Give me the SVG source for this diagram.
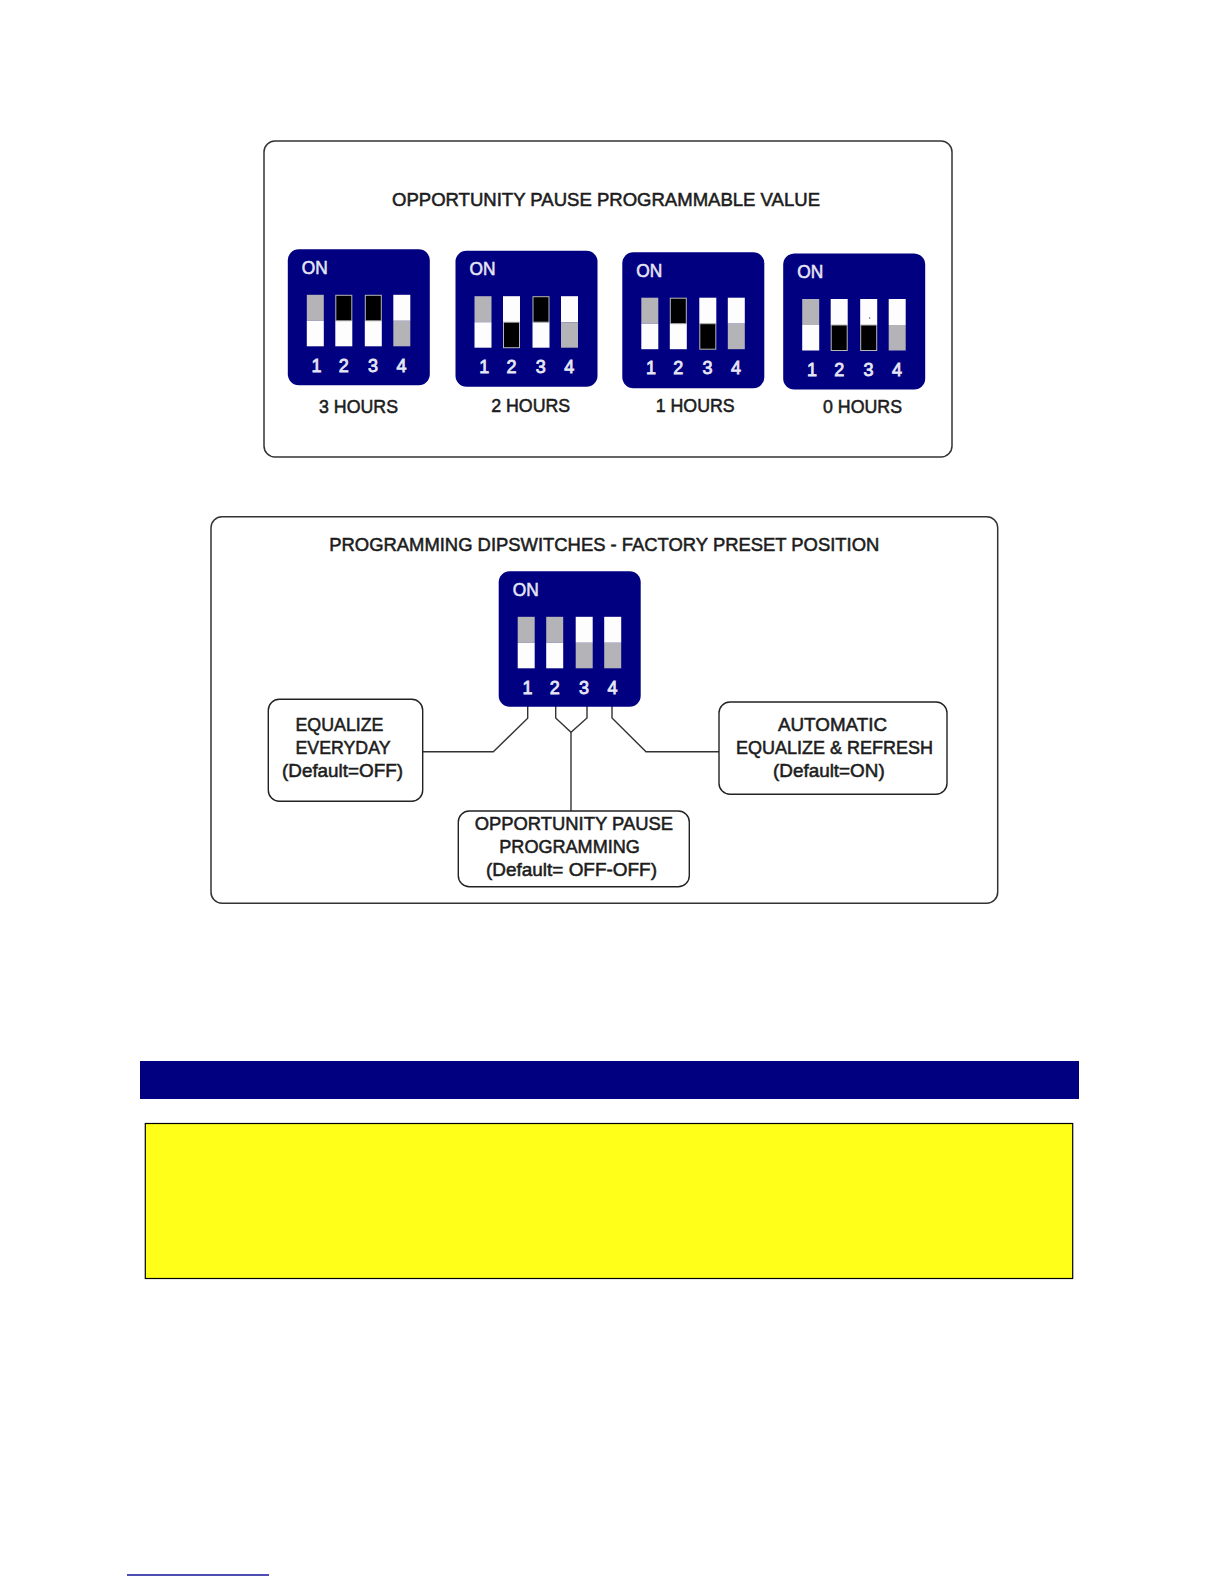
<svg xmlns="http://www.w3.org/2000/svg" width="1224" height="1584" viewBox="0 0 1224 1584">
<style>
text{font-family:"Liberation Sans",Arial,sans-serif}
.panel{fill:#fff;stroke:#333;stroke-width:1.5}
.box{fill:#fff;stroke:#222;stroke-width:1.4}
.lbl{font-size:19px;fill:#1c1c1c;stroke:#1c1c1c;stroke-width:.55}
.body{fill:#000080}
.w{fill:#fdfdfd}
.g{fill:#b4b4b8}
.k{fill:#000;stroke:#b8b8b0;stroke-width:1}
.on{font-size:18px;fill:#e6e6f4;stroke:#e6e6f4;stroke-width:.55}
.n{font-size:18px;fill:#e6e6f4;stroke:#e6e6f4;stroke-width:.8;text-anchor:middle}
.wire{fill:none;stroke:#333;stroke-width:1.4}
</style>
<rect width="1224" height="1584" fill="#fff"/>

<g id="panel-opportunity">
<rect class="panel" x="264" y="141" width="688" height="316" rx="11"/>
<text class="lbl" x="392" y="206.3" textLength="428" lengthAdjust="spacingAndGlyphs">OPPORTUNITY PAUSE PROGRAMMABLE VALUE</text>
</g>

<g id="dip-3h" transform="translate(287.8,249.3)">
<rect class="body" width="142" height="136" rx="11"/>
<text class="on" x="14" y="25" textLength="26" lengthAdjust="spacingAndGlyphs">ON</text>
<rect class="g" x="19" y="45.5" width="17" height="26"/><rect class="w" x="19" y="71.5" width="17" height="25.5"/>
<rect class="w" x="47.5" y="71.5" width="17" height="25.5"/><rect class="k" x="48" y="46" width="16" height="25.5"/>
<rect class="w" x="77" y="71.5" width="17" height="25.5"/><rect class="k" x="77.5" y="46" width="16" height="25.5"/>
<rect class="w" x="105.5" y="45.5" width="17" height="26"/><rect class="g" x="105.5" y="71.5" width="17" height="25.5"/>
<text class="n" x="28.7" y="123">1</text><text class="n" x="56" y="123">2</text><text class="n" x="85.3" y="123">3</text><text class="n" x="113.7" y="123">4</text>
</g>
<text id="label-3h" class="lbl" x="319" y="413" textLength="79" lengthAdjust="spacingAndGlyphs">3 HOURS</text>

<g id="dip-2h" transform="translate(455.5,250.7)">
<rect class="body" width="142" height="136" rx="11"/>
<text class="on" x="14" y="24.5" textLength="26" lengthAdjust="spacingAndGlyphs">ON</text>
<rect class="g" x="19" y="45.5" width="17" height="26"/><rect class="w" x="19" y="71.5" width="17" height="25.5"/>
<rect class="w" x="47.5" y="45.5" width="17" height="26"/><rect class="k" x="48" y="71.5" width="16" height="25.5"/>
<rect class="w" x="77" y="71.5" width="17" height="25.5"/><rect class="k" x="77.5" y="46" width="16" height="25.5"/>
<rect class="w" x="105.5" y="45.5" width="17" height="26"/><rect class="g" x="105.5" y="71.5" width="17" height="25.5"/>
<text class="n" x="28.7" y="122">1</text><text class="n" x="56" y="122">2</text><text class="n" x="85.3" y="122">3</text><text class="n" x="113.7" y="122">4</text>
</g>
<text id="label-2h" class="lbl" x="491.2" y="412" textLength="79" lengthAdjust="spacingAndGlyphs">2 HOURS</text>

<g id="dip-1h" transform="translate(622.3,252.2)">
<rect class="body" width="142" height="136" rx="11"/>
<text class="on" x="14" y="24.5" textLength="26" lengthAdjust="spacingAndGlyphs">ON</text>
<rect class="g" x="19" y="45.5" width="17" height="26"/><rect class="w" x="19" y="71.5" width="17" height="25.5"/>
<rect class="w" x="47.5" y="71.5" width="17" height="25.5"/><rect class="k" x="48" y="46" width="16" height="25.5"/>
<rect class="w" x="77" y="45.5" width="17" height="26"/><rect class="k" x="77.5" y="71.5" width="16" height="25.5"/>
<rect class="w" x="105.5" y="45.5" width="17" height="26"/><rect class="g" x="105.5" y="71.5" width="17" height="25.5"/>
<text class="n" x="28.7" y="121.5">1</text><text class="n" x="56" y="121.5">2</text><text class="n" x="85.3" y="121.5">3</text><text class="n" x="113.7" y="121.5">4</text>
</g>
<text id="label-1h" class="lbl" x="655.7" y="412" textLength="79" lengthAdjust="spacingAndGlyphs">1 HOURS</text>

<g id="dip-0h" transform="translate(783.2,253.5)">
<rect class="body" width="142" height="136" rx="11"/>
<text class="on" x="14" y="24.5" textLength="26" lengthAdjust="spacingAndGlyphs">ON</text>
<rect class="g" x="19" y="45.5" width="17" height="26"/><rect class="w" x="19" y="71.5" width="17" height="25.5"/>
<rect class="w" x="47.5" y="45.5" width="17" height="26"/><rect class="k" x="48" y="71.5" width="16" height="25.5"/>
<rect class="w" x="77" y="45.5" width="17" height="26"/><rect class="k" x="77.5" y="71.5" width="16" height="25.5"/>
<rect x="86" y="64" width="1" height="1" fill="#000"/>
<rect class="w" x="105.5" y="45.5" width="17" height="26"/><rect class="g" x="105.5" y="71.5" width="17" height="25.5"/>
<text class="n" x="28.7" y="122">1</text><text class="n" x="56" y="122">2</text><text class="n" x="85.3" y="122">3</text><text class="n" x="113.7" y="122">4</text>
</g>
<text id="label-0h" class="lbl" x="823" y="413" textLength="79" lengthAdjust="spacingAndGlyphs">0 HOURS</text>

<g id="panel-factory">
<rect class="panel" x="211" y="516.7" width="786.7" height="386.6" rx="11"/>
<text class="lbl" x="329.3" y="551" textLength="550" lengthAdjust="spacingAndGlyphs">PROGRAMMING DIPSWITCHES - FACTORY PRESET POSITION</text>
</g>

<g id="connectors">
<path class="wire" d="M422.7 751.7H493.3L527.7 718.3V706"/>
<path class="wire" d="M555.7 706V718L571 732.3L587 718V706"/>
<path class="wire" d="M571 732.3V811"/>
<path class="wire" d="M612 706V718L646 751.7H719"/>
</g>

<g id="dip-factory" transform="translate(498.7,571.3)">
<rect class="body" width="142" height="135.5" rx="11"/>
<text class="on" x="14" y="25" textLength="26" lengthAdjust="spacingAndGlyphs">ON</text>
<rect class="g" x="19" y="45.5" width="17" height="26"/><rect class="w" x="19" y="71.5" width="17" height="25.5"/>
<rect class="g" x="47.5" y="45.5" width="17" height="26"/><rect class="w" x="47.5" y="71.5" width="17" height="25.5"/>
<rect class="w" x="77" y="45.5" width="17" height="26"/><rect class="g" x="77" y="71.5" width="17" height="25.5"/>
<rect class="w" x="105.5" y="45.5" width="17" height="26"/><rect class="g" x="105.5" y="71.5" width="17" height="25.5"/>
<text class="n" x="28.7" y="123">1</text><text class="n" x="56" y="123">2</text><text class="n" x="85.3" y="123">3</text><text class="n" x="113.7" y="123">4</text>
</g>

<g id="box-equalize">
<rect class="box" x="268.3" y="699.3" width="154.4" height="102" rx="11"/>
<text class="lbl" x="295.5" y="731" textLength="88" lengthAdjust="spacingAndGlyphs">EQUALIZE</text>
<text class="lbl" x="295.5" y="754" textLength="95" lengthAdjust="spacingAndGlyphs">EVERYDAY</text>
<text class="lbl" x="282" y="777" textLength="121" lengthAdjust="spacingAndGlyphs">(Default=OFF)</text>
</g>

<g id="box-automatic">
<rect class="box" x="719" y="702" width="228" height="92.3" rx="11"/>
<text class="lbl" x="778" y="731" textLength="109" lengthAdjust="spacingAndGlyphs">AUTOMATIC</text>
<text class="lbl" x="736" y="754" textLength="197" lengthAdjust="spacingAndGlyphs">EQUALIZE &amp; REFRESH</text>
<text class="lbl" x="773" y="777" textLength="111.7" lengthAdjust="spacingAndGlyphs">(Default=ON)</text>
</g>

<g id="box-opportunity">
<rect class="box" x="458.3" y="811" width="231" height="75.7" rx="11"/>
<text class="lbl" x="474.7" y="830" textLength="198.3" lengthAdjust="spacingAndGlyphs">OPPORTUNITY PAUSE</text>
<text class="lbl" x="499.3" y="853" textLength="140.5" lengthAdjust="spacingAndGlyphs">PROGRAMMING</text>
<text class="lbl" x="486" y="876" textLength="171" lengthAdjust="spacingAndGlyphs">(Default= OFF-OFF)</text>
</g>

<rect id="bar" x="140" y="1061" width="939" height="38" fill="#000080"/>
<rect id="note" x="145.3" y="1123.5" width="927.4" height="155" fill="#ffff19" stroke="#000" stroke-width="1.2"/>
<line id="rule" x1="127" y1="1575" x2="269" y2="1575" stroke="#14149a" stroke-width="1.3"/>
</svg>
